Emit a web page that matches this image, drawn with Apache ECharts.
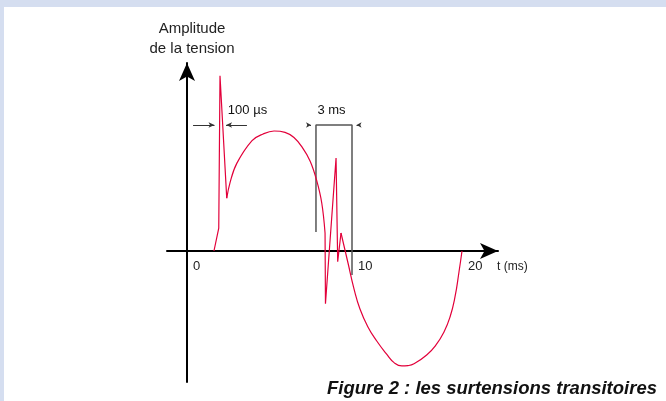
<!DOCTYPE html>
<html><head><meta charset="utf-8">
<script src="https://cdn.jsdelivr.net/npm/echarts@6/dist/echarts.min.js"></script>
<style>html,body{margin:0;padding:0;background:#fff}#c{width:666px;height:401px}</style>
</head><body><div id="c"></div><script>
// Axis tick labels and where they sit on the time axis (ms)
const xTickValues = [0, 12, 20];
const xTickLabels = ['0', '10', '20'];
// Voltage curve (t in ms, amplitude normalised)
const surgeStart = [[1.96, 0], [2.31, 0.19], [2.40, 1.46], [2.89, 0.44]];
const firstHalf = [[2.89, 0.44], [3.13, 0.57], [3.62, 0.73], [4.73, 0.92], [5.53, 0.975], [6.33, 1.0], [7.13, 0.988], [7.78, 0.946], [8.36, 0.867], [8.95, 0.75], [9.42, 0.592], [9.80, 0.40], [10.04, 0.15]];
const switching = [[10.04, 0.15], [10.07, -0.44], [10.84, 0.775], [10.96, -0.09], [11.2, 0.15]];
const secondHalf = [[11.2, 0.15], [11.71, -0.1], [12.15, -0.317], [12.58, -0.483], [13.16, -0.633], [13.80, -0.75], [14.52, -0.86], [15.06, -0.93], [15.62, -0.958], [16.07, -0.955], [16.51, -0.94], [17.43, -0.867], [18.11, -0.783], [18.69, -0.675], [19.13, -0.55], [19.49, -0.383], [19.78, -0.175], [20.0, 0]];
// Annotations
const bracket3ms = [[9.38, 0.158], [9.38, 1.05], [12.0, 1.05], [12.0, -0.2]];
const arrows100us = [[[0.44, 1.05], [2.0, 1.05]], [[4.36, 1.05], [2.84, 1.05]]];
const arrowHeads3ms = [[[8.91, 1.05], [9.02, 1.05]], [[12.47, 1.05], [12.33, 1.05]]];
const annotations = [[4.4, 1.175, '100 µs'], [10.51, 1.175, '3 ms']];
const yAxisName = 'Amplitude\nde la tension';
const xAxisName = 't (ms)';
const figureTitle = 'Figure 2 : les surtensions transitoires';

const font = '"Liberation Sans", Arial, sans-serif';
const red = '#e2003a';
const chart = echarts.init(document.getElementById('c'), null, {renderer: 'canvas'});
const curve = (data, smooth) => ({
  type: 'line', data: data, smooth: smooth,
  symbol: 'none', silent: true, z: 3,
  lineStyle: {color: red, width: 1.2}
});
const xMin = -20 / 13.75, xMax = 311 / 13.75;
const axisLine = {onZero: true, lineStyle: {color: '#000', width: 2}, symbol: ['none', 'arrow'], symbolSize: [12, 18]};
const option = {
  animation: false,
  backgroundColor: '#fff',
  textStyle: {fontFamily: font},
  title: {
    text: figureTitle, right: 9, top: 379, padding: 0,
    textStyle: {fontSize: 18.5, fontStyle: 'italic', fontWeight: 'bold', color: '#111', fontFamily: font}
  },
  graphic: [
    {type: 'rect', left: 0, top: 0, shape: {width: 666, height: 7}, style: {fill: '#d5def0'}, silent: true},
    {type: 'rect', left: 0, top: 0, shape: {width: 4, height: 401}, style: {fill: '#d5def0'}, silent: true}
  ],
  grid: [
    {left: 167, top: 63, width: 331, height: 319},
    {left: 167, top: 63, width: 331, height: 188}
  ],
  xAxis: [{
    type: 'value', min: xMin, max: xMax, gridIndex: 0,
    axisLine: axisLine, axisTick: {show: false}, splitLine: {show: false}, axisLabel: {show: false}
  }, {
    type: 'value', min: xMin, max: xMax, gridIndex: 1,
    axisLine: {show: false, onZero: false}, axisTick: {show: false}, splitLine: {show: false},
    axisLabel: {
      customValues: xTickValues,
      formatter: function (v) { const i = xTickValues.indexOf(v); return i >= 0 ? xTickLabels[i] : ''; },
      align: 'left', padding: [0, 0, 0, 6], margin: 9, fontSize: 13, color: '#222', fontFamily: font
    },
    name: xAxisName, nameLocation: 'end', nameGap: -1,
    nameTextStyle: {fontSize: 12, color: '#222', verticalAlign: 'top', lineHeight: 31, fontFamily: font}
  }],
  yAxis: [{
    type: 'value', min: -131 / 120, max: 188 / 120, gridIndex: 0,
    axisLine: axisLine, axisTick: {show: false}, splitLine: {show: false}, axisLabel: {show: false},
    name: yAxisName, nameLocation: 'end', nameGap: 4,
    nameTextStyle: {fontSize: 15, lineHeight: 20, color: '#222', padding: [0, 0, 0, 10], fontFamily: font}
  }, {
    type: 'value', min: 0, max: 1, gridIndex: 1, show: false
  }],
  series: [
    curve(surgeStart, false),
    curve(firstHalf, 0.4),
    curve(switching, false),
    curve(secondHalf, 0.5),
    {
      type: 'line', data: bracket3ms, symbol: 'none', silent: true, z: 2,
      lineStyle: {color: '#555', width: 1.5},
      markLine: {
        silent: true, animation: false,
        symbol: ['none', 'arrow'], symbolSize: [4, 6],
        label: {show: false},
        lineStyle: {color: '#333', width: 1, type: 'solid'},
        emphasis: {disabled: true},
        data: arrows100us.map(s => [{coord: s[0]}, {coord: s[1]}])
          .concat(arrowHeads3ms.map(s => [{coord: s[0], symbolSize: [4, 5]}, {coord: s[1], symbolSize: [4, 5]}]))
      }
    },
    {
      type: 'scatter', data: annotations, symbolSize: 0, silent: true, z: 5,
      itemStyle: {opacity: 1},
      label: {show: true, position: 'inside', formatter: p => p.value[2], fontSize: 13, color: '#111', opacity: 1, textBorderWidth: 0, fontFamily: font}
    }
  ]
};
chart.setOption(option);
</script></body></html>
